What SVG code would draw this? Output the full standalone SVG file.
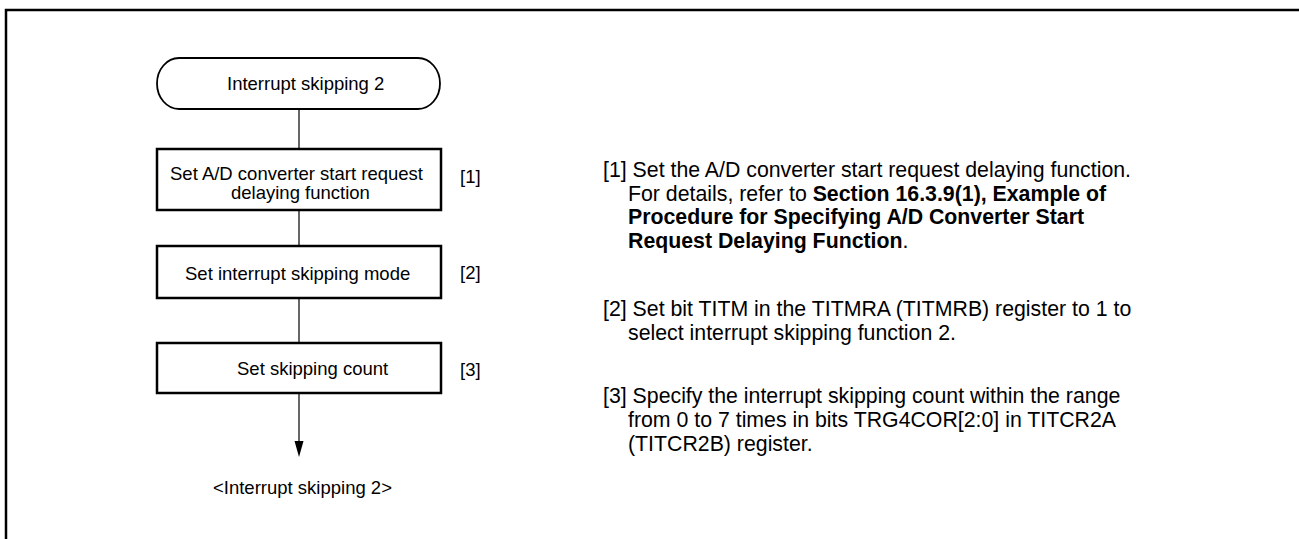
<svg xmlns="http://www.w3.org/2000/svg" width="1299" height="539" viewBox="0 0 1299 539">
<style>
text{font-family:"Liberation Sans",Arial,sans-serif;fill:#000}
.f{font-size:18.5px}
.r{font-size:21.3px}
.b{font-weight:bold}
.box{fill:#fff;stroke:#000;stroke-width:2.5}
.term{fill:#fff;stroke:#000;stroke-width:1.8}
.c{stroke:#000;stroke-width:1.2;fill:none}
</style>
<rect width="1299" height="539" fill="#fff"/>
<path d="M6,539 V10 H1299" fill="none" stroke="#000" stroke-width="2.5"/>
<g id="connectors">
<line class="c" x1="299" y1="109" x2="299" y2="149"/>
<line class="c" x1="299" y1="210" x2="299" y2="246"/>
<line class="c" x1="299" y1="298" x2="299" y2="343"/>
<line class="c" x1="299" y1="393" x2="299" y2="443"/>
<polygon points="294.5,441 303.5,441 299,457" fill="#000"/>
</g>
<g id="start">
<rect class="term" x="157" y="58" width="283" height="51" rx="22" ry="25.5"/>
<text class="f" x="227" y="90">Interrupt skipping 2</text>
</g>
<g id="step1">
<rect class="box" x="157" y="149" width="284" height="61"/>
<text class="f" x="170" y="180">Set A/D converter start request</text>
<text class="f" x="231" y="199">delaying function</text>
<text class="f" x="460" y="183">[1]</text>
</g>
<g id="step2">
<rect class="box" x="157" y="246" width="284" height="52"/>
<text class="f" x="185" y="280">Set interrupt skipping mode</text>
<text class="f" x="460" y="279">[2]</text>
</g>
<g id="step3">
<rect class="box" x="157" y="343" width="284" height="50"/>
<text class="f" x="237" y="375">Set skipping count</text>
<text class="f" x="460" y="376">[3]</text>
</g>
<g id="end">
<text class="f" x="213" y="494">&lt;Interrupt skipping 2&gt;</text>
</g>
<g id="notes">
<text class="r" x="603" y="177">[1] Set the A/D converter start request delaying function.</text>
<text class="r" x="628" y="201">For details, refer to <tspan class="b">Section 16.3.9(1), Example of</tspan></text>
<text class="r b" x="628" y="224">Procedure for Specifying A/D Converter Start</text>
<text class="r" x="628" y="248"><tspan class="b">Request Delaying Function</tspan>.</text>
<text class="r" x="603" y="316">[2] Set bit TITM in the TITMRA (TITMRB) register to 1 to</text>
<text class="r" x="628" y="340">select interrupt skipping function 2.</text>
<text class="r" x="603" y="403">[3] Specify the interrupt skipping count within the range</text>
<text class="r" x="628" y="427">from 0 to 7 times in bits TRG4COR[2:0] in TITCR2A</text>
<text class="r" x="628" y="451">(TITCR2B) register.</text>
</g>
</svg>
